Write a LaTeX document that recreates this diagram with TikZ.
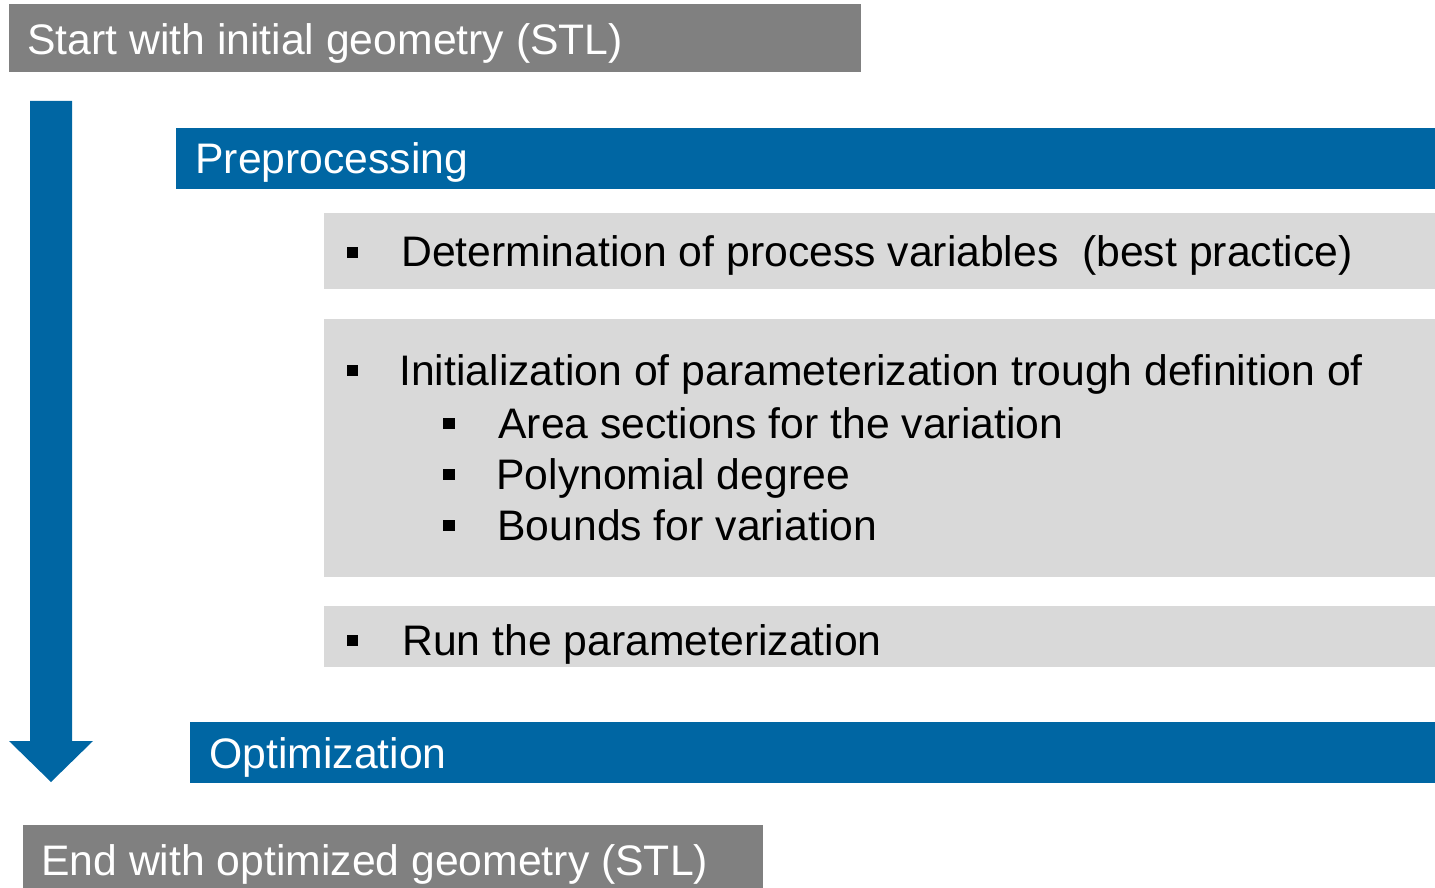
\documentclass[tikz,border=0pt]{standalone}
\usepackage{fontspec}
\setmainfont{Liberation Sans}
\usetikzlibrary{positioning}
\definecolor{flowblue}{RGB}{0,102,163}
\definecolor{flowgray}{RGB}{128,128,128}
\definecolor{itemgray}{RGB}{217,217,217}

\begin{document}
\begin{tikzpicture}[x=0.02cm,y=-0.02cm,
  lbl/.style={anchor=base west,inner sep=0pt,font=\fontsize{24.3}{29}\selectfont},
  wlbl/.style={lbl,text=white}]
  \useasboundingbox (0,0) rectangle (1435,888);
  % start / end boxes
  \fill[flowgray] (9,4) rectangle (861,72);
  \node[wlbl] (start) at (27,55) {Start with initial geometry (STL)};
  \fill[flowgray] (23,825) rectangle (763,888);
  \node[wlbl] (finish) at (41,875) {End with optimized geometry (STL)};
  % big arrow down the left
  \fill[flowblue] (30,101) -- (72,101) -- (72,741) -- (93,741) -- (51,782)
    -- (9,741) -- (30,741) -- cycle;
  % stage bars
  \fill[flowblue] (176,128) rectangle (1435,189);
  \node[wlbl] (prep) at (195,174) {Preprocessing};
  \fill[flowblue] (190,722) rectangle (1435,783);
  \node[wlbl] (opt) at (209,768) {Optimization};
  % preprocessing items
  \fill[itemgray] (324,213) rectangle (1435,289);
  \fill[itemgray] (324,319) rectangle (1435,577);
  \fill[itemgray] (324,606) rectangle (1435,667);
  \foreach \y in {267,385,655} \fill (347,\y-20) rectangle ++(11,11);
  \foreach \y in {438,489,540} \fill (443,\y-20) rectangle ++(12,11);
  \node[lbl] (detvar) at (401,267) {Determination of process variables~ (best practice)};
  \node[lbl] (init) at (399,385) {Initialization of parameterization trough definition of};
  \node[lbl] (area) at (498,438) {Area sections for the variation};
  \node[lbl] (poly) at (496,489) {Polynomial degree};
  \node[lbl] (bounds) at (497,540) {Bounds for variation};
  \node[lbl] (run) at (402,655) {Run the parameterization};
\end{tikzpicture}
\end{document}
